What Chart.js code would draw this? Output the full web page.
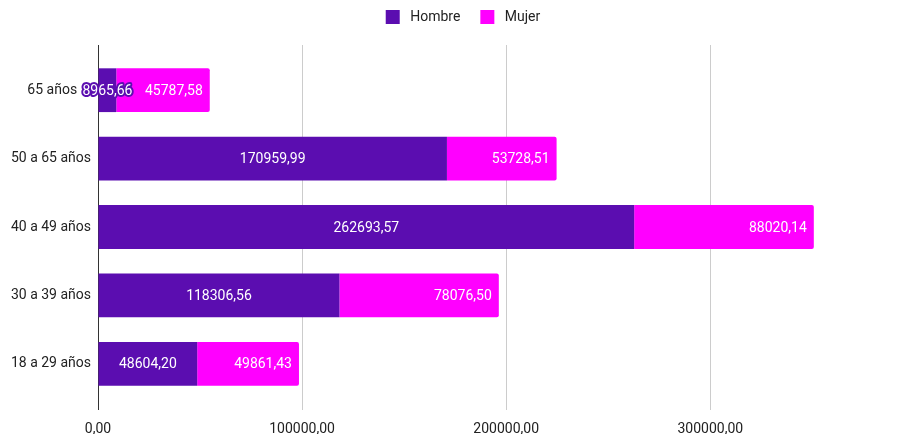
<!DOCTYPE html>
<html>
<head>
<meta charset="utf-8">
<script src="https://cdn.jsdelivr.net/npm/chart.js@4/dist/chart.umd.min.js"></script>
<style>
  html, body { margin: 0; padding: 0; background: #fff; }
  #wrap { width: 900px; height: 434px; }
</style>
</head>
<body>
<div id="wrap"><canvas id="grafico"></canvas></div>
<script>
const categorias = ['65 años', '50 a 65 años', '40 a 49 años', '30 a 39 años', '18 a 29 años'];
const hombre = [8965.66, 170959.99, 262693.57, 118306.56, 48604.20];
const mujer = [45787.58, 53728.51, 88020.14, 78076.50, 49861.43];
const ticksX = [0, 100000, 200000, 300000];

const fmt = v => v.toFixed(2).replace('.', ',');

// etiquetas dentro de las barras
const etiquetas = {
    id: 'etiquetas',
    afterDatasetsDraw(chart) {
        const ctx = chart.ctx;
        ctx.save();
        ctx.font = '14px Roboto';
        ctx.textBaseline = 'middle';
        chart.data.datasets.forEach((ds, di) => {
            chart.getDatasetMeta(di).data.forEach((bar, i) => {
                const txt = fmt(ds.data[i]);
                const left = Math.min(bar.base, bar.x);
                const right = Math.max(bar.base, bar.x);
                let x;
                if (di === 0) {
                    ctx.textAlign = 'center';
                    x = (left + right) / 2;
                } else {
                    ctx.textAlign = 'right';
                    x = right - 7;
                }
                const w = ctx.measureText(txt).width;
                if (w + 6 > right - left) {
                    ctx.lineWidth = 4;
                    ctx.lineJoin = 'round';
                    ctx.strokeStyle = '#5b0db0';
                    ctx.strokeText(txt, x, bar.y + 1);
                }
                ctx.fillStyle = '#ffffff';
                ctx.fillText(txt, x, bar.y + 1);
            });
        });
        ctx.restore();
    }
};

// prolonga la rejilla por encima del área
const rejillaArriba = {
    id: 'rejillaArriba',
    beforeDatasetsDraw(chart) {
        const ctx = chart.ctx;
        const xs = chart.scales.x;
        const top = chart.chartArea.top;
        ctx.save();
        ticksX.forEach(v => {
            const px = Math.round(xs.getPixelForValue(v)) + 0.5;
            ctx.strokeStyle = v === 0 ? '#333333' : '#cccccc';
            ctx.lineWidth = 1;
            ctx.beginPath();
            ctx.moveTo(px, top - 11);
            ctx.lineTo(px, top);
            ctx.stroke();
        });
        ctx.restore();
    }
};

const ajusteLeyenda = {
    id: 'ajusteLeyenda',
    beforeInit(chart) {
        const fitOrig = chart.legend.fit;
        chart.legend.fit = function () {
            fitOrig.bind(chart.legend)();
            this.height = 56;
        };
    },
    afterLayout(chart) {
        const lg = chart.legend;
        lg.left += 16;
        lg.right += 16;
        lg.top -= 10;
        lg.bottom -= 10;
    }
};

const data = {
    labels: categorias,
    datasets: [{
        label: 'Hombre',
        data: hombre,
        backgroundColor: '#5b0db0',
        borderSkipped: false,
        borderRadius: 0
    }, {
        label: 'Mujer',
        data: mujer,
        backgroundColor: '#ff00ff',
        borderRadius: { topRight: 2, bottomRight: 2 },
        borderSkipped: false
    }]
};

const config = {
    type: 'bar',
    data: data,
    plugins: [etiquetas, rejillaArriba, ajusteLeyenda],
    options: {
        indexAxis: 'y',
        responsive: true,
        maintainAspectRatio: false,
        animation: false,
        layout: { padding: { left: 0, right: 6, top: 0, bottom: 0 } },
        scales: {
            x: {
                stacked: true,
                min: 0,
                max: 390000,
                afterBuildTicks: s => { s.ticks = ticksX.map(v => ({ value: v })); },
                afterFit: s => { s.height = 36; },
                border: { display: false },
                grid: {
                    color: ctx => ctx.tick && ctx.tick.value === 0 ? '#333333' : '#cccccc',
                    tickLength: 12,
                    tickColor: ctx => ctx.tick && ctx.tick.value === 0 ? '#333333' : '#cccccc'
                },
                ticks: {
                    padding: 11,
                    color: '#222222',
                    font: { family: 'Roboto', size: 14 },
                    callback: v => fmt(v)
                }
            },
            y: {
                stacked: true,
                afterFit: s => { s.width = 98; },
                border: { display: false },
                grid: { display: false, drawTicks: false },
                ticks: {
                    padding: 7,
                    color: '#222222',
                    font: { family: 'Roboto', size: 14 },
                    // la primera etiqueta queda desplazada por la anotación que sobresale
                    callback: (v, i) => i === 0 ? categorias[i] + '\u00a0\u00a0\u00a0\u00a0' : categorias[i]
                }
            }
        },
        datasets: { bar: { categoryPercentage: 0.64, barPercentage: 1 } },
        plugins: {
            legend: {
                position: 'top',
                labels: {
                    boxWidth: 14,
                    boxHeight: 14,
                    padding: 20,
                    color: '#222222',
                    font: { family: 'Roboto', size: 14 },
                    generateLabels: chart => Chart.defaults.plugins.legend.labels.generateLabels(chart)
                        .map(l => Object.assign(l, { text: ' ' + l.text }))
                }
            },
            tooltip: { enabled: false }
        }
    }
};

new Chart(document.getElementById('grafico'), config);
</script>
</body>
</html>
